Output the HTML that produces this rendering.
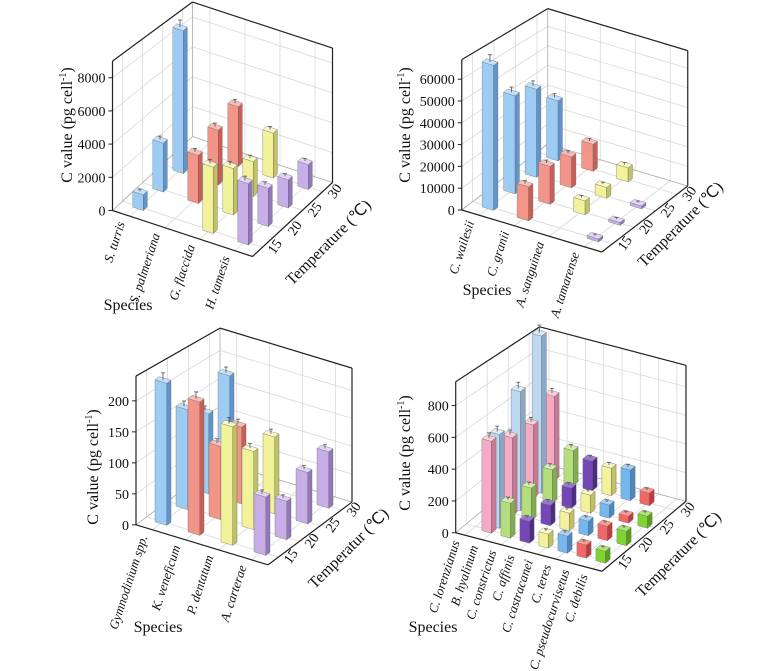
<!DOCTYPE html>
<html><head><meta charset="utf-8"><style>
html,body{margin:0;padding:0;background:#fff;}
svg{display:block;font-family:"Liberation Serif",serif;}
</style></head><body>
<svg id="fig" width="763" height="671" viewBox="0 0 763 671" xmlns="http://www.w3.org/2000/svg"></svg>
<script>
// ---------- data ----------
const temps = [15, 20, 25, 30];

const p1Species = ["S. turris", "S. palmeriana", "G. flaccida", "H. tamesis"];
const p1Values = [[950, 2950, 8600, null], [null, 2900, 3300, 3600], [4000, 2800, 2100, 2700], [3700, 2300, 1700, 1500]];
const p1Ticks = [0, 2000, 4000, 6000, 8000];

const p2Species = ["C. wailesii", "C. granii", "A. sanguinea", "A. tamarense"];
const p2Values = [[66500, 45000, 40400, 27500], [15600, 17400, 14200, 12400], [null, 6400, 5000, 6400], [1300, 1300, 1300, null]];
const p2Ticks = [0, 10000, 20000, 30000, 40000, 50000, 60000];

const p3Species = ["Gymnodinium spp.", "K. veneficum", "P. dentatum", "A. carterae"];
const p3Values = [[229, 161, 129, 165], [215, 118, 124, null], [191, 126, 124, null], [94, 62, 83, 91]];
const p3Ticks = [0, 50, 100, 150, 200];

const p4Species = ["C. lorenzianus", "B. hyalinum", "C. constrictus", "C. affinis", "C. castracanei", "C. teres", "C. pseudocurvisetus", "C. debilis"];
const p4Values = [[578, 490, 460, 530], [590, 750, 990, null], [220, 205, 210, 220], [138, 129, 126, 186], [88, 110, 113, 173], [107, 91, 82, 192], [82, 91, 44, 79], [75, 91, 75, null]];
const p4Ticks = [0, 200, 400, 600, 800];

// ---------- styles ----------
const C = {
  blue: ["#9cccf4", "#5f94cc", "#c4e0fa"], red: ["#f29488", "#c85e56", "#f8beb6"],
  yellow: ["#f2f29a", "#c2c264", "#fafac8"], purple: ["#c8aee6", "#9278b8", "#e2d4f4"],
  pink: ["#f4aac4", "#c87a94", "#fad0de"], lblue: ["#bcd8f0", "#8aa8c4", "#dcecf8"],
  yg: ["#b4de7c", "#84ac50", "#d4eeae"], dpurple: ["#7446b8", "#4e2a88", "#9a78d0"],
  blue2: ["#74b6ee", "#4a88c0", "#a6d0f6"], red2: ["#f26666", "#c03c3c", "#f89a9a"],
  green: ["#80d432", "#58a01c", "#aee676"]
};
const NS = "http://www.w3.org/2000/svg";
const svg = document.getElementById("fig");
function el(tag, attrs, parent) {
  const e = document.createElementNS(NS, tag);
  for (const k in attrs) e.setAttribute(k, attrs[k]);
  (parent || svg).appendChild(e);
  return e;
}
function pts(a) { return a.map(p => p[0].toFixed(1) + "," + p[1].toFixed(1)).join(" "); }

function panel(cfg, species, values, ticks, colors) {
  const g = el("g", {});
  
  
  const P = (u, v, z) => [cfg.base[0] + u * cfg.S[0] + v * cfg.T[0], cfg.base[1] + u * cfg.S[1] + v * cfg.T[1] - z * cfg.k];
  // frame projection with slight perspective shrink toward the back
  const F = (u, v, z) => P(u, v, z * (1 - 0.025 * (v - cfg.v0)));
  const line = (a, b, col, wd, name) => {
    const l = el("line", { x1: a[0], y1: a[1], x2: b[0], y2: b[1], stroke: col, "stroke-width": wd }, g);
    
    
  };
  const {u0, u1, v0, v1, zmax} = cfg;
  const gc = "#d8d8d8";
  const tickU = species.map((s, i) => cfg.tickU(i));
  ticks.forEach(z => { if (z > 0) { line(F(u0, v0, z), F(u0, v1, z), gc, 0.8, "grid-line"); line(F(u0, v1, z), F(u1, v1, z), gc, 0.8, "grid-line"); } });
  temps.forEach((t, j) => { line(F(u0, j, 0), F(u0, j, zmax), gc, 0.8, "grid-line"); line(F(u0, j, 0), F(u1, j, 0), gc, 0.8, "grid-line"); });
  tickU.forEach(u => { line(F(u, v1, 0), F(u, v1, zmax), gc, 0.8, "grid-line"); line(F(u, v0, 0), F(u, v1, 0), gc, 0.8, "grid-line"); });
  line(F(u0, v1, 0), F(u0, v1, zmax), "#aaa", 0.8, "wall-edge");
  line(F(u0, v0, 0), F(u0, v1, 0), "#aaa", 0.8, "wall-edge");
  line(F(u0, v1, 0), F(u1, v1, 0), "#aaa", 0.8, "wall-edge");
  const bc = "#222";
  line(F(u0, v0, 0), F(u1, v0, 0), bc, 1.2, "species-axis");
  line(F(u1, v0, 0), F(u1, v1, 0), bc, 1.2, "temperature-axis");
  line(F(u0, v0, 0), F(u0, v0, zmax), bc, 1.2, "value-axis");
  line(F(u0, v0, zmax), F(u0, v1, zmax), bc, 1.2, "box-edge");
  line(F(u0, v1, zmax), F(u1, v1, zmax), bc, 1.2, "box-edge");
  line(F(u1, v1, zmax), F(u1, v1, 0), bc, 1.2, "box-edge");
  // bars
  const bars = [];
  values.forEach((row, i) => row.forEach((val, j) => { if (val != null) bars.push({ i, j, val, u: cfg.rowU(i), v: j + cfg.rowV(i) }); }));
  bars.sort((a, b) => (b.v - a.v) || (a.u - b.u));
  const w = cfg.w / 2, d = cfg.d / 2;
  bars.forEach(b => {
    const col = colors[b.i];
    const bg = el("g", {}, g);
    
    
    const z = b.val;
    const a0 = P(b.u - w, b.v - d, 0), a1 = P(b.u + w, b.v - d, 0), a2 = P(b.u + w, b.v + d, 0);
    const t0 = P(b.u - w, b.v - d, z), t1 = P(b.u + w, b.v - d, z), t2 = P(b.u + w, b.v + d, z), t3 = P(b.u - w, b.v + d, z);
    el("polygon", { points: pts([a0, a1, t1, t0]), fill: col[0], stroke: "#777", "stroke-width": 0.4 }, bg);
    el("polygon", { points: pts([a1, a2, t2, t1]), fill: col[1], stroke: "#666", "stroke-width": 0.4 }, bg);
    el("polygon", { points: pts([t0, t1, t2, t3]), fill: col[2], stroke: "#777", "stroke-width": 0.4 }, bg);
    const c = P(b.u, b.v, z), e = P(b.u, b.v, z * 1.04 + zmax * 0.01);
    el("line", { x1: c[0], y1: c[1], x2: e[0], y2: e[1], stroke: "#555", "stroke-width": 0.8 }, bg);
    el("line", { x1: e[0] - 2, y1: e[1], x2: e[0] + 2, y2: e[1], stroke: "#555", "stroke-width": 0.8 }, bg);
  });
  ticks.forEach(z => {
    const p = F(u0, v0, z);
    line([p[0] - 4, p[1]], p, bc, 1, "value-tick");
    const t = el("text", { x: p[0] - 7, y: p[1] + 5, "text-anchor": "end", "font-size": 14, fill: "#111" }, g);
    
    
    t.textContent = z;
  });
  species.forEach((s, i) => {
    const p = P(tickU[i], v0, 0);
    const x = p[0] - 5, y = p[1] + 7;
    const t = el("text", { x: x, y: y, "text-anchor": "end", "font-size": 13, "font-style": "italic", fill: "#111", transform: `rotate(-72 ${x} ${y})` }, g);
    
    
    t.textContent = s;
  });
  temps.forEach((tv, j) => {
    const p = P(u1, j, 0);
    const x = p[0] + cfg.tl[0], y = p[1] + cfg.tl[1];
    const t = el("text", { x: x, y: y, "text-anchor": "middle", "font-size": 14, fill: "#111", transform: `rotate(-55 ${x} ${y})` }, g);
    
    
    t.textContent = tv;
  });
  const yt = el("text", { x: cfg.yt[0], y: cfg.yt[1], "text-anchor": "middle", "font-size": 16, fill: "#111", transform: `rotate(-90 ${cfg.yt[0]} ${cfg.yt[1]})` }, g);
  
  
  yt.innerHTML = 'C value (pg cell<tspan dy="-6" font-size="10">-1</tspan><tspan dy="6">)</tspan>';
  const st = el("text", { x: cfg.st[0], y: cfg.st[1], "text-anchor": "middle", "font-size": 16, fill: "#111" }, g);
  
  
  st.textContent = "Species";
  const tt = el("text", { x: cfg.tt[0], y: cfg.tt[1], "text-anchor": "middle", "font-size": 16, fill: "#111", transform: `rotate(-45 ${cfg.tt[0]} ${cfg.tt[1]})` }, g);
  
  
  tt.textContent = cfg.ttext;
}

panel({ name: "panel-a", base: [140, 207], S: [35, 11.5], T: [20, -18.5], k: 0.0166, zmax: 9000, u0: -0.5, u1: 3.5, v0: -0.5, v1: 3.5, w: 0.3, d: 0.2,
  rowU: i => i, rowV: i => 0, tickU: i => i, tl: [16, 2], yt: [72, 125], st: [128, 310], tt: [332, 246], ttext: "Temperature (℃)" },
  p1Species, p1Values, p1Ticks, [C.blue, C.red, C.yellow, C.purple]);

panel({ name: "panel-b", base: [490, 207], S: [35, 10.5], T: [21.5, -16.5], k: 0.00218, zmax: 69000, u0: -0.5, u1: 3.5, v0: -0.5, v1: 3.5, w: 0.33, d: 0.2,
  rowU: i => i, rowV: i => 0, tickU: i => i, tl: [16, 2], yt: [410, 125], st: [487, 295], tt: [684, 228], ttext: "Temperature (℃)" },
  p2Species, p2Values, p2Ticks, [C.blue, C.red, C.yellow, C.purple]);

panel({ name: "panel-c", base: [163, 522], S: [33, 10], T: [21, -15.7], k: 0.62, zmax: 240, u0: -0.5, u1: 3.5, v0: -0.5, v1: 3.5, w: 0.36, d: 0.2,
  rowU: i => i, rowV: i => 0, tickU: i => i, tl: [16, 2], yt: [98, 467], st: [158, 632], tt: [352, 552], ttext: "Temperatur (℃)" },
  p3Species, p3Values, p3Ticks, [C.blue, C.red, C.yellow, C.purple]);

panel({ name: "panel-d", base: [489, 530], S: [19, 5], T: [21, -17.5], k: 0.159, zmax: 950, u0: -1.2, u1: 6.5, v0: -0.5, v1: 3.5, w: 0.5, d: 0.22,
  rowU: i => (i === 0 ? 0 : i === 1 ? 0.1 : i - 1), rowV: i => (i === 1 ? 0.3 : 0),
  tickU: i => -1.2 + (i + 0.5) * 7.7 / 8, tl: [16, 2], yt: [410, 453], st: [433, 632], tt: [682, 558], ttext: "Temperature (℃)" },
  p4Species, p4Values, p4Ticks, [C.pink, C.lblue, C.yg, C.dpurple, C.yellow, C.blue2, C.red2, C.green]);
</script>
</body></html>
